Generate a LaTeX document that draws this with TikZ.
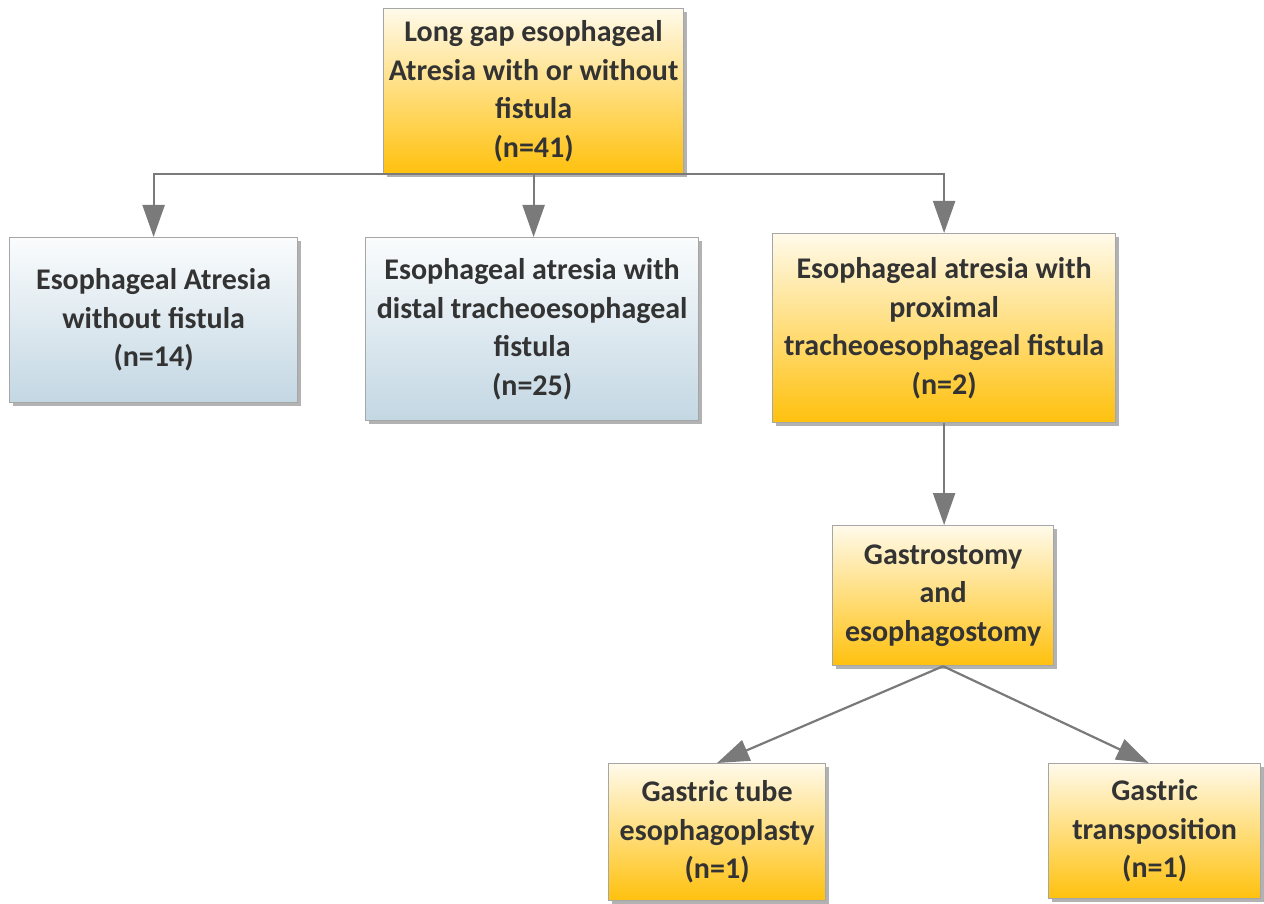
\documentclass[tikz,border=0pt]{standalone}
\usepackage{fontspec}
\setmainfont{Carlito}
\usetikzlibrary{arrows.meta,shadows}
\definecolor{txt}{HTML}{333333}
\definecolor{boxline}{HTML}{A6A6A6}
\definecolor{otop}{HTML}{FFFAEA}
\definecolor{omid}{HTML}{FFE38C}
\definecolor{obot}{HTML}{FFC10E}
\definecolor{btop}{HTML}{FAFCFD}
\definecolor{bmid}{HTML}{E4EEF4}
\definecolor{bbot}{HTML}{C3D7E3}
\definecolor{conncol}{HTML}{7A7A7A}
\tikzset{
  box/.style={draw=boxline, line width=1.2pt, align=center,
    font={\fontsize{30}{38.5}\selectfont\bfseries}, text=txt,
    anchor=north west, inner sep=0pt,
    drop shadow={shadow xshift=3pt, shadow yshift=-3pt, fill=black!55, opacity=0.55}},
  obox/.style={box, top color=otop, middle color=omid, bottom color=obot},
  bbox/.style={box, top color=btop, middle color=bmid, bottom color=bbot},
  conn/.style={draw=conncol, line width=2.2pt,
    -{Triangle[width=22pt,length=32pt]}},
}
\begin{document}
\begin{tikzpicture}[x=1pt,y=-1pt]
\useasboundingbox (0,0) rectangle (1264,904);
\fill[white] (0,0) rectangle (1264,904);

\node[obox, minimum width=300pt, minimum height=165pt] (top) at (383,8)
  {Long gap esophageal\\Atresia with or without\\fistula\\(n=41)};
\node[bbox, minimum width=288pt, minimum height=165pt] (left) at (9,237)
  {Esophageal Atresia\\without fistula\\(n=14)};
\node[bbox, minimum width=333pt, minimum height=183pt] (mid) at (365,237)
  {Esophageal atresia with\\distal tracheoesophageal\\fistula\\(n=25)};
\node[obox, minimum width=343pt, minimum height=189pt] (right) at (772,233)
  {Esophageal atresia with\\proximal\\tracheoesophageal fistula\\(n=2)};
\node[obox, minimum width=221pt, minimum height=140pt] (gas) at (832,525)
  {Gastrostomy\\and\\esophagostomy};
\node[obox, minimum width=217pt, minimum height=137pt] (tube) at (608,763)
  {Gastric tube\\esophagoplasty\\(n=1)};
\node[obox, minimum width=212pt, minimum height=135pt] (trans) at (1048,763)
  {Gastric\\transposition\\(n=1)};

\draw[conn] (top.south) -- (top.south |- mid.north);
\draw[conn] (top.south) -| (left.north);
\draw[conn] (top.south) -| (right.north);
\draw[conn] (right.south) -- (right.south |- gas.north);
\draw[conn] (gas.south) -- (tube.north);
\draw[conn] (gas.south) -- ([xshift=-6pt]trans.north);
\end{tikzpicture}
\end{document}
